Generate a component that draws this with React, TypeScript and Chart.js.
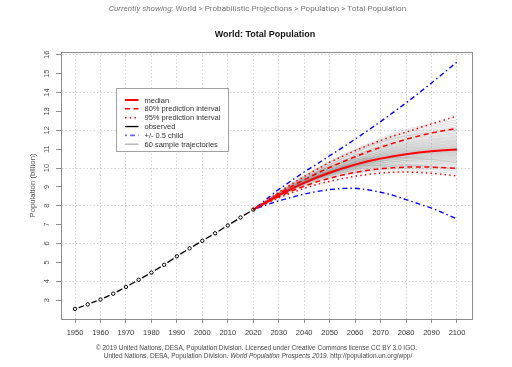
import React, { useEffect, useRef } from "react";
import { Chart, registerables } from "chart.js";

Chart.register(...registerables);

// ---------------- data ----------------
const observedYears = [1950, 1955, 1960, 1965, 1970, 1975, 1980, 1985, 1990, 1995, 2000, 2005, 2010, 2015, 2020];
const observedPop = [2.536, 2.773, 3.032, 3.339, 3.7, 4.079, 4.458, 4.871, 5.327, 5.744, 6.143, 6.542, 6.957, 7.38, 7.795];

const projYears = [2020, 2025, 2030, 2035, 2040, 2045, 2050, 2055, 2060, 2065, 2070, 2075, 2080, 2085, 2090, 2095, 2100];
const median = [7.795, 8.184, 8.56, 8.9, 9.21, 9.5, 9.75, 9.98, 10.18, 10.36, 10.5, 10.63, 10.73, 10.82, 10.89, 10.94, 10.98];
const pi80Upper = [7.795, 8.22, 8.64, 9.03, 9.38, 9.72, 10.03, 10.32, 10.6, 10.86, 11.1, 11.32, 11.52, 11.7, 11.86, 11.99, 12.09];
const pi80Lower = [7.795, 8.15, 8.48, 8.78, 9.04, 9.27, 9.46, 9.63, 9.77, 9.88, 9.97, 10.02, 10.05, 10.06, 10.05, 10.02, 9.99];
const pi95Upper = [7.795, 8.25, 8.72, 9.15, 9.55, 9.93, 10.3, 10.62, 10.92, 11.2, 11.46, 11.7, 11.9, 12.12, 12.34, 12.55, 12.75];
const pi95Lower = [7.795, 8.12, 8.42, 8.69, 8.93, 9.13, 9.3, 9.44, 9.56, 9.66, 9.74, 9.78, 9.79, 9.77, 9.72, 9.66, 9.58];
const childUpper = [7.795, 8.33, 8.87, 9.33, 9.79, 10.21, 10.65, 11.08, 11.53, 11.99, 12.46, 12.95, 13.45, 13.97, 14.51, 15.06, 15.62];
const childLower = [7.795, 8.04, 8.26, 8.45, 8.62, 8.76, 8.86, 8.92, 8.93, 8.85, 8.72, 8.55, 8.33, 8.1, 7.88, 7.6, 7.3];

// sample trajectories: value in 2020, then values for 2040, 2060, 2080, 2100
const trajYears = [2020, 2040, 2060, 2080, 2100];
const trajStart = 7.795;
const trajectories = [
  [9.05, 9.72, 9.85, 9.72], [9.12, 9.8, 9.95, 9.85], [9.1, 9.76, 9.98, 9.94], [9.15, 9.85, 10.05, 10.02],
  [9.18, 9.9, 10.1, 10.08], [9.14, 9.88, 10.12, 10.15], [9.2, 9.95, 10.2, 10.2], [9.17, 9.93, 10.18, 10.26],
  [9.22, 10.0, 10.25, 10.31], [9.19, 9.97, 10.3, 10.36], [9.23, 10.03, 10.33, 10.4], [9.21, 10.05, 10.38, 10.45],
  [9.25, 10.08, 10.4, 10.49], [9.18, 10.02, 10.42, 10.53], [9.24, 10.1, 10.47, 10.57], [9.27, 10.12, 10.5, 10.61],
  [9.22, 10.09, 10.52, 10.65], [9.26, 10.14, 10.55, 10.68], [9.2, 10.11, 10.58, 10.72], [9.28, 10.16, 10.6, 10.75],
  [9.24, 10.15, 10.63, 10.79], [9.21, 10.18, 10.66, 10.82], [9.29, 10.2, 10.68, 10.85], [9.25, 10.17, 10.7, 10.88],
  [9.23, 10.22, 10.73, 10.91], [9.3, 10.19, 10.75, 10.94], [9.26, 10.24, 10.78, 10.97], [9.22, 10.21, 10.8, 11.0],
  [9.31, 10.26, 10.83, 11.03], [9.27, 10.23, 10.85, 11.06], [9.24, 10.28, 10.88, 11.09], [9.32, 10.3, 10.9, 11.12],
  [9.28, 10.27, 10.93, 11.15], [9.25, 10.32, 10.96, 11.19], [9.33, 10.34, 10.99, 11.22], [9.29, 10.31, 11.02, 11.26],
  [9.35, 10.37, 11.05, 11.3], [9.3, 10.39, 11.08, 11.34], [9.27, 10.36, 11.12, 11.38], [9.36, 10.42, 11.15, 11.42],
  [9.32, 10.44, 11.19, 11.46], [9.38, 10.47, 11.22, 11.5], [9.34, 10.45, 11.26, 11.55], [9.39, 10.51, 11.3, 11.6],
  [9.37, 10.54, 11.34, 11.65], [9.41, 10.57, 11.38, 11.7], [9.36, 10.55, 11.43, 11.76], [9.43, 10.62, 11.48, 11.82],
  [9.4, 10.65, 11.52, 11.88], [9.45, 10.7, 11.58, 11.95], [9.42, 10.68, 11.63, 12.02], [9.48, 10.76, 11.7, 12.1],
  [9.5, 10.8, 11.76, 12.18], [9.46, 10.82, 11.83, 12.27], [9.53, 10.88, 11.9, 12.36], [9.55, 10.93, 11.97, 12.45],
  [9.58, 10.98, 12.05, 12.55], [9.6, 10.95, 11.7, 12.03], [9.45, 10.45, 10.55, 10.3], [9.3, 10.1, 10.15, 9.95],
];

const xTickValues = [1950, 1960, 1970, 1980, 1990, 2000, 2010, 2020, 2030, 2040, 2050, 2060, 2070, 2080, 2090, 2100];
const yTickValues = [3, 4, 5, 6, 7, 8, 9, 10, 11, 12, 13, 14, 15, 16];

const legendLabels = ["median", "80% prediction interval", "95% prediction interval", "observed", "+/- 0.5 child", "60 sample trajectories"];

// ---------------- styles ----------------
const FONT = "'Liberation Sans', Arial, Helvetica, sans-serif";
const RED = "#ff0000";
const BLUE = "#0000ff";
const STY = {
  median: { color: RED, width: 2, dash: [] as number[] },
  pi80: { color: RED, width: 1.5, dash: [5, 3.5] },
  pi95: { color: RED, width: 1.5, dash: [1.5, 3.2] },
  observed: { color: "#000000", width: 1.3, dash: [] as number[] },
  child: { color: BLUE, width: 1.4, dash: [1.5, 3, 5, 3] },
  traj: { color: "rgba(140,140,140,0.26)", width: 1, dash: [] as number[] },
};
const legendStyles = [
  STY.median,
  STY.pi80,
  STY.pi95,
  STY.observed,
  { color: "#6a6aff", width: 1.6, dash: [2, 3, 5, 3] },
  { color: "#bbbbbb", width: 1.6, dash: [] as number[] },
];

const pts = (xs: number[], ys: number[]) => xs.map((x, i) => ({ x, y: ys[i] }));

const lineDs = (data: any[], s: { color: string; width: number; dash: number[] }) => ({
  data,
  borderColor: s.color,
  borderWidth: s.width,
  borderDash: s.dash,
  pointRadius: 0,
  fill: false,
  tension: 0,
});

const GAP = 4;
const segLen = (c: any) => Math.hypot(c.p1.x - c.p0.x, c.p1.y - c.p0.y);

const boxPlugin = {
  id: "plotBox",
  afterDatasetsDraw(chart: any) {
    const { ctx, chartArea: a } = chart;
    ctx.save();
    ctx.strokeStyle = "#8c8c8c";
    ctx.lineWidth = 1;
    ctx.strokeRect(Math.round(a.left) + 0.5, Math.round(a.top) + 0.5, Math.round(a.right - a.left), Math.round(a.bottom - a.top));

    // legend box
    const lx = a.left + 55.5;
    const ly = a.top + 36.5;
    const lw = 112;
    const lh = 63;
    ctx.fillStyle = "#ffffff";
    ctx.fillRect(lx, ly, lw, lh);
    ctx.strokeStyle = "#a0a0a0";
    ctx.strokeRect(lx, ly, lw, lh);
    ctx.font = `7.5px ${FONT}`;
    ctx.textBaseline = "middle";
    ctx.textAlign = "left";
    legendLabels.forEach((label, i) => {
      const y = ly + 11.5 + i * 8.85;
      const s = legendStyles[i];
      ctx.beginPath();
      ctx.setLineDash(s.dash);
      ctx.strokeStyle = s.color;
      ctx.lineWidth = s.width;
      ctx.moveTo(lx + 8.5, y);
      ctx.lineTo(lx + 22, y);
      ctx.stroke();
      ctx.setLineDash([]);
      ctx.fillStyle = "#333333";
      ctx.fillText(label, lx + 28, y + 0.5);
    });
    ctx.restore();
  },
};

export default function App() {
  const ref = useRef<HTMLCanvasElement | null>(null);

  useEffect(() => {
    if (!ref.current) return;
    const datasets: any[] = [
      {
        ...lineDs(pts(observedYears, observedPop), STY.observed),
        pointRadius: 1.7,
        pointBorderWidth: 1,
        pointBorderColor: "#000",
        pointBackgroundColor: "rgba(0,0,0,0)",
        segment: {
          borderDash: (c: any) => {
            const L = segLen(c);
            return [Math.max(L - 2 * GAP, 0.1), 2 * GAP];
          },
          borderDashOffset: (c: any) => segLen(c) - GAP,
        },
      },
      lineDs(pts(projYears, median), STY.median),
      lineDs(pts(projYears, pi80Upper), STY.pi80),
      lineDs(pts(projYears, pi80Lower), STY.pi80),
      lineDs(pts(projYears, pi95Upper), STY.pi95),
      lineDs(pts(projYears, pi95Lower), STY.pi95),
      lineDs(pts(projYears, childUpper), STY.child),
      lineDs(pts(projYears, childLower), STY.child),
      ...trajectories.map((row) => ({
        ...lineDs(pts(trajYears, [trajStart, ...row]), STY.traj),
        cubicInterpolationMode: "monotone",
      })),
    ];

    const chart = new Chart(ref.current, {
      type: "line",
      data: { datasets },
      plugins: [boxPlugin],
      options: {
        responsive: false,
        animation: false,
        devicePixelRatio: 1,
        events: [],
        layout: { padding: { top: 52, right: 40, bottom: 0, left: 0 } },
        plugins: {
          legend: { display: false },
          tooltip: { enabled: false },
          title: { display: false },
        },
        scales: {
          x: {
            type: "linear",
            min: 1944.5,
            max: 2105.9,
            afterBuildTicks: (s: any) => {
              s.ticks = xTickValues.map((v) => ({ value: v }));
            },
            afterFit: (s: any) => {
              s.height = 48;
            },
            grid: {
              color: "#d2d2d2",
              lineWidth: 1,
              drawTicks: true,
              tickLength: 4,
              tickColor: "#8c8c8c",
            },
            border: { display: true, color: "#8c8c8c", width: 1, dash: [1.5, 2] },
            ticks: {
              font: { family: FONT, size: 7.5 },
              color: "#333333",
              padding: 5,
              maxRotation: 0,
              minRotation: 0,
              autoSkip: false,
              callback: (v: any) => String(v),
            },
          },
          y: {
            type: "linear",
            min: 2.0,
            max: 16.15,
            afterBuildTicks: (s: any) => {
              s.ticks = yTickValues.map((v) => ({ value: v }));
            },
            afterFit: (s: any) => {
              s.width = 61;
            },
            grid: {
              color: (c: any) => (c.tick && c.tick.value % 2 === 0 ? "#d2d2d2" : "rgba(0,0,0,0)"),
              lineWidth: 1,
              drawTicks: true,
              tickLength: 5,
              tickColor: "#8c8c8c",
            },
            border: { display: true, color: "#8c8c8c", width: 1, dash: [1.5, 2] },
            ticks: {
              font: { family: FONT, size: 7.5 },
              color: "#555555",
              padding: 5,
              minRotation: 90,
              maxRotation: 90,
              crossAlign: "center",
              autoSkip: false,
              callback: (v: any) => String(v),
            },
            title: {
              display: true,
              text: "Population (billion)",
              font: { family: FONT, size: 7.8 },
              color: "#555555",
              padding: { top: 28, bottom: 0 },
            },
          },
        },
      } as any,
    });
    return () => chart.destroy();
  }, []);

  const abs = (cx: number, cy: number): React.CSSProperties => ({
    position: "absolute",
    left: cx,
    top: cy,
    transform: "translate(-50%, -50%)",
    whiteSpace: "nowrap",
    lineHeight: 1.15,
  });

  return (
    <div style={{ position: "absolute", left: 0, top: 0, width: 512, height: 367, background: "#fff", overflow: "hidden" }}>
      <canvas ref={ref} width={512} height={367} style={{ position: "absolute", left: 0, top: 0, width: 512, height: 367 }} />
      <div style={{ ...abs(257.5, 8.5), fontFamily: "Roboto, sans-serif", fontSize: 8.1, color: "#777" }}>
        <i>Currently showing:</i> World &gt; Probabilistic Projections &gt; Population &gt; Total Population
      </div>
      <div style={{ ...abs(265, 34.3), fontFamily: FONT, fontSize: 9, fontWeight: "bold", color: "#111" }}>
        World: Total Population
      </div>
      <div style={{ ...abs(256.5, 347.7), fontFamily: FONT, fontSize: 6.5, color: "#444" }}>
        © 2019 United Nations, DESA, Population Division. Licensed under Creative Commons license CC BY 3.0 IGO.
      </div>
      <div style={{ ...abs(258, 355.7), fontFamily: FONT, fontSize: 6.5, color: "#444" }}>
        United Nations, DESA, Population Division. <i>World Population Prospects 2019</i>. http://population.un.org/wpp/
      </div>
    </div>
  );
}
